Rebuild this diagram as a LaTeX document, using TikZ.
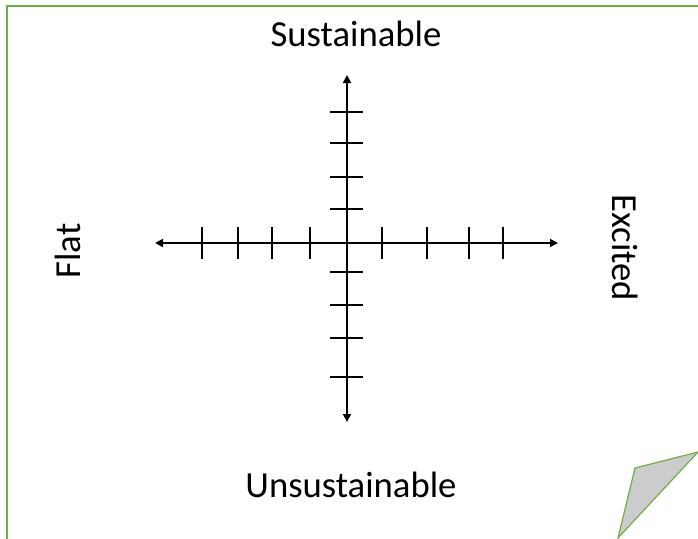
\documentclass[tikz,border=0pt]{standalone}
\usepackage{fontspec}
\setmainfont{Carlito}
\usetikzlibrary{arrows.meta}
\definecolor{framegreen}{RGB}{112,173,71}

\begin{document}
\begin{tikzpicture}[
 x=1pt, y=-1pt, >={Triangle[length=8pt,width=8pt]},
 axis/.style={draw, <->, line width=1.8pt},
 tickmark/.style={draw, line width=1.6pt},
 lbl/.style={font=\fontsize{36.7}{44}\selectfont, anchor=base, inner sep=0pt}]
\useasboundingbox (0,0) rectangle (698,538);
\clip (0,0) rectangle (698,538);
\draw[framegreen, line width=2.2pt] (7,545) -- (7,6) -- (705,6);
\filldraw[fill=black!20, draw=framegreen, line width=1.2pt] (635,468) -- (698,452) -- (618,538) -- cycle;
\coordinate (ytop) at (347,75);
\coordinate (ybot) at (347,422);
\coordinate (xleft) at (155,243);
\coordinate (xright) at (558,243);
\draw[axis] (xleft) -- (xright);
\draw[axis] (ybot) -- (ytop);
\foreach \tx in {202,238,272,310,382,427,469,503}
  \draw[tickmark] (\tx,227) -- (\tx,259);
\foreach \ty in {112,143,177,209,272,305,338,377}
  \draw[tickmark] (330,\ty) -- (363,\ty);
\node[lbl] (sust) at (356,46) {Sustainable};
\node[lbl] (unsust) at (351,497) {Unsustainable};
\node[lbl, rotate=90] (flat) at (80,251) {Flat};
\node[lbl, rotate=-90] (excited) at (612,248) {Excited};
\end{tikzpicture}
\end{document}
